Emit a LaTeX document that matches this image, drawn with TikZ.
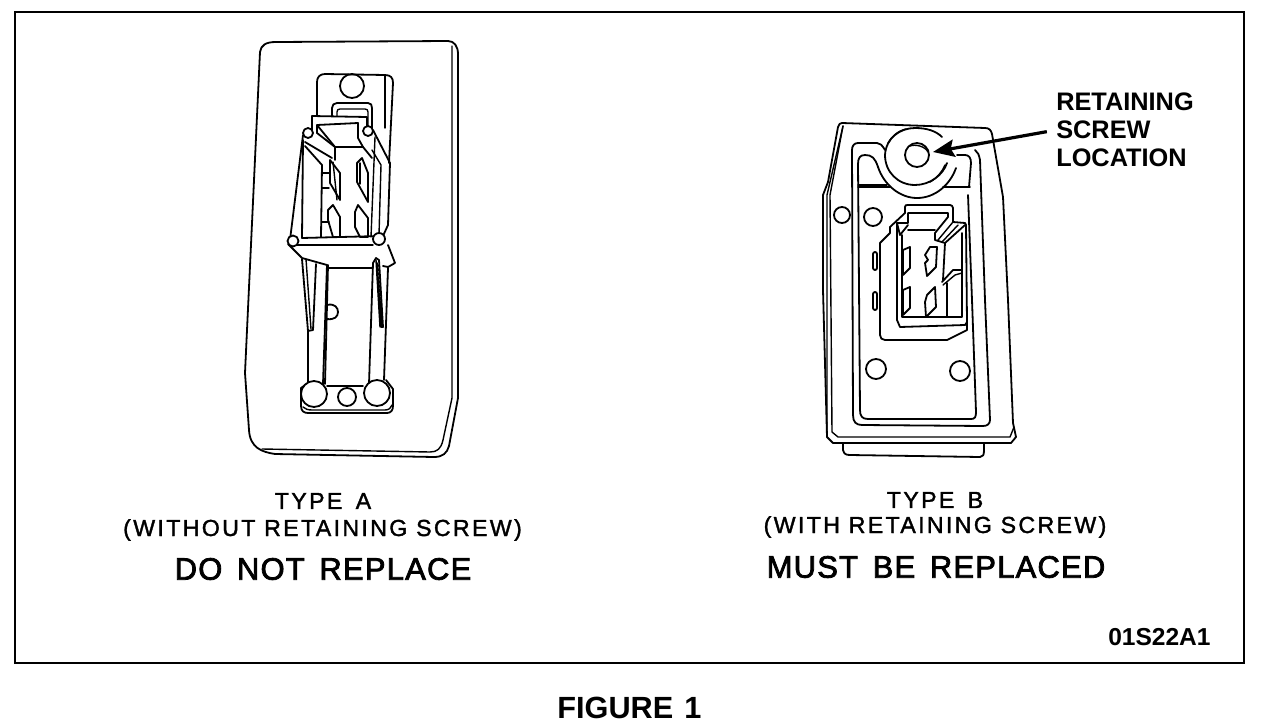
\documentclass[tikz,border=0pt]{standalone}
\usepackage{fontspec}
\setmainfont{Liberation Sans}
\usetikzlibrary{arrows.meta}
\newfontfamily\labfont[LetterSpace=10,FakeBold=1.5]{Liberation Sans}
\newfontfamily\bigfont[LetterSpace=4,FakeBold=2.5]{Liberation Sans}
\tikzset{
 ink/.style={draw=black,line width=1.35pt,line join=round,line cap=round},
 fine/.style={draw=black,line width=1.05pt,line join=round,line cap=round},
 lab/.style={font=\fontsize{17.4pt}{19pt}\labfont,inner sep=0pt,anchor=center,text=black},
 big/.style={font=\fontsize{23.2pt}{25pt}\bigfont,inner sep=0pt,anchor=center,text=black},
 tag/.style={font=\fontsize{19pt}{20pt}\selectfont\bfseries,inner sep=0pt,anchor=west,text=black},
 pointer/.style={draw=black,line width=2.4pt,-{Stealth[length=16pt,width=13pt,inset=2.5pt]}}
}
\begin{document}
\begin{tikzpicture}[x=0.75pt,y=-0.75pt]
\useasboundingbox (0,0) rectangle (1264,728);
\fill[white] (0,0) rectangle (1264,728);
\draw[draw=black,line width=1.9pt] (15,12) rectangle (1244,663);
% ---------- TYPE A body
\draw[ink] (260,52) .. controls (261,45) and (266,42) .. (276,42) -- (448,41) .. controls (454,41) and (458,46) .. (458,54) -- (458,398) -- (449,446) .. controls (447,453) and (443,457) .. (434,457) -- (275,454) .. controls (262,452) and (250,448) .. (249,430) -- (245,373) -- cycle;
\draw[fine] (452,46) -- (452,398) -- (443,440) .. controls (441,449) and (437,452) .. (430,452) -- (262,449);
% tab
\draw[ink] (317,116) -- (317,82) .. controls (317,77) and (320,74) .. (325,74) -- (385,75) .. controls (391,75) and (393,78) .. (393,83) -- (389,163);
\draw[fine] (385,76) -- (385,128);
\draw[ink] (352,86) circle (12);
\draw[ink] (332,116) -- (332,108) .. controls (332,105) and (334,103) .. (337,103) -- (368,103) .. controls (371,103) and (372,105) .. (372,108) -- (372,128);
\draw[fine] (337,116) -- (337,112) .. controls (337,110) and (338,109) .. (340,109) -- (365,109) .. controls (367,109) and (368,110) .. (368,112) -- (368,127);
\draw[ink] (312,130) -- (312,116) -- (367,117) -- (367,127);
% frame
\draw[ink] (303,135) -- (290,240);
\draw[ink] (303,140) -- (302,238) -- (380,236);
\draw[ink] (373,130) -- (390,163) -- (388,225) -- (383,236);
\draw[fine] (375,137) -- (371,237);
\draw[fine] (372,150) -- (381,165) -- (379,235);
\draw[ink,fill=white] (308,133) circle (5);
\draw[ink,fill=white] (368,131) circle (5);
\draw[ink,fill=white] (293,241) circle (5.5);
\draw[ink,fill=white] (379,239) circle (6);
% block
\draw[ink] (317,125) -- (358,123) -- (358,138) -- (363,147) -- (335,147) -- (317,133) -- cycle;
\draw[ink] (317,125) -- (335,147) -- (335,160);
\draw[ink] (363,147) -- (372,158);
\draw[ink] (305,142) -- (332,158);
\draw[ink] (305,146) -- (322,165) -- (321,237);
\draw[fine] (322,173) -- (329,173) (322,188) -- (329,188) (322,222) -- (329,222);
\draw[ink] (330,160) -- (340,173) -- (340,200) -- (330,183) -- cycle;
\draw[fine] (333,162) -- (337,200);
\draw[ink] (357,163) -- (362,158) -- (368,173) -- (368,202) -- (357,182) -- cycle;
\draw[fine] (360,163) -- (360,184);
\draw[ink] (328,210) -- (333,205) -- (340,217) -- (340,237) -- (333,237) -- (328,220) -- cycle;
\draw[ink] (355,212) -- (358,205) -- (368,218) -- (368,237) -- (360,237) -- (355,227) -- cycle;
% collar
\draw[ink] (288,244) -- (302,258) -- (327,265);
\draw[fine] (297,245) -- (373,245);
\draw[ink] (388,245) -- (395,263) -- (388,267) -- (383,266);
\draw[ink] (328,268) -- (373,268);
% lower legs
\draw[ink] (302,259) -- (308,331) -- (313,330) -- (316,264);
\draw[fine] (306,259) -- (311,329);
\draw[ink] (327,265) -- (323,384);
\draw[ink] (328,265) -- (325,384);
\draw[ink] (308,331) -- (308,384);
\draw[ink] (327,305) .. controls (335,303) and (338,308) .. (338,312) .. controls (338,317) and (334,320) .. (327,319);
\draw[ink] (373,263) -- (369,384);
\draw[ink] (373,263) -- (376,258) -- (379,260) -- (383,327) -- (381,327) -- (377,263);
\draw[fine] (376,260) -- (380,327);
\draw[ink] (388,268) -- (384,380);
% base
\draw[ink] (308,383) -- (301,388) -- (301,406) .. controls (301,411) and (304,413) .. (308,413) -- (387,413) .. controls (391,413) and (393,410) .. (393,406) -- (393,389) -- (386,380);
\draw[fine] (303,407) .. controls (305,409) and (308,410) .. (312,410) -- (385,410) .. controls (389,410) and (391,408) .. (392,405);
\draw[ink] (327,386) -- (363,386);
\draw[ink,fill=white] (314,394) circle (13);
\draw[ink,fill=white] (377,393) circle (13);
\draw[ink,fill=white] (347,397) circle (9);
% ---------- TYPE B body
\draw[ink] (842,123) -- (985,128) .. controls (989,128) and (991,130) .. (992,134) -- (1003,197) -- (1008,300) -- (1013,423) -- (1016,437) -- (1011,443) -- (833,443) -- (827,437) -- (823,290) -- (823,195) -- (828,182) -- (838,127) .. controls (839,124) and (840,123) .. (842,123);
\draw[fine] (843,126) -- (827,195) -- (827,437);
\draw[fine] (1014,427) -- (1010,437) -- (838,437) -- (832,432) -- (830,195) -- (843,126);
\draw[ink] (843,443) -- (843,450) .. controls (844,454) and (846,455) .. (850,455) -- (980,457) .. controls (983,457) and (984,455) .. (984,450) -- (984,443);
% frames
\draw[ink] (885,150) .. controls (882,145) and (880,143) .. (877,143) -- (858,143) .. controls (854,143) and (852,146) .. (852,150) -- (853,415) .. controls (853,422) and (856,425) .. (862,425) -- (983,426) .. controls (987,426) and (990,424) .. (990,420) -- (985,300) -- (980,160) .. controls (979,155) and (978,152) .. (975,150);
\draw[ink] (878,167) .. controls (875,158) and (872,155) .. (865,155) .. controls (860,155) and (858,158) .. (858,164) -- (860,410) .. controls (860,416) and (862,419) .. (868,419) -- (971,419) .. controls (975,419) and (976,417) .. (976,412) -- (972,300) -- (968,195);
\draw[ink] (957,155) -- (965,155) .. controls (969,155) and (971,158) .. (971,163) -- (969,187);
\draw[ink] (858,187) -- (890,187);
\draw[ink] (943,187) -- (970,187);
\draw[fine] (858,185) -- (887,185);
% screw boss
\draw[ink] (942,137) .. controls (936,131) and (927,128) .. (915,128) .. controls (900,128) and (886,138) .. (885,155) .. controls (885,172) and (898,185) .. (915,185) .. controls (930,185) and (943,175) .. (947,163);
\draw[fine] (888,143) .. controls (892,136) and (898,131) .. (906,129);
\draw[fine] (930,182) .. controls (937,178) and (942,172) .. (945,165);
\draw[ink] (878,167) .. controls (884,185) and (900,198) .. (917,198) .. controls (935,198) and (950,185) .. (956,168);
\draw[ink] (917,155) circle (12);
\draw[fine] (910,146) .. controls (915,144) and (925,146) .. (928,152);
% housing
\draw[ink] (905,213) -- (905,207) .. controls (905,205) and (906,205) .. (908,205) -- (950,205) .. controls (952,205) and (952,206) .. (953,208) -- (953,222) -- (965,223);
\draw[ink] (905,213) -- (890,227) -- (890,233) -- (880,243) -- (880,335) .. controls (880,338) and (882,340) .. (885,340) -- (947,340) -- (967,330) -- (967,322);
\draw[ink] (897,223) -- (908,223) -- (908,213) -- (948,213) -- (948,217) -- (935,233) -- (935,240) -- (945,243) -- (965,225);
\draw[fine] (953,222) -- (938,240);
\draw[fine] (958,225) -- (942,242);
\draw[ink] (908,230) -- (935,230);
\draw[ink] (908,225) -- (900,235) -- (897,223);
\draw[ink] (897,223) -- (897,320) -- (900,327) -- (965,325) -- (967,322) -- (966,225) -- (965,223);
\draw[ink] (902,235) -- (902,317) -- (962,317) -- (962,233);
\draw[ink] (945,243) -- (943,280);
\draw[ink] (947,283) -- (947,317);
\draw[ink] (942,282) -- (953,270) -- (962,270);
\draw[fine] (943,285) -- (955,275) -- (962,273);
\draw[ink] (903,250) -- (910,247) -- (910,268) -- (903,275) -- cycle;
\draw[ink] (925,255) -- (930,247) -- (937,247) -- (936,267) -- (927,276) -- (925,263) -- (928,260) -- cycle;
\draw[ink] (903,290) -- (910,287) -- (910,308) -- (903,315) -- cycle;
\draw[ink] (927,295) -- (935,287) -- (936,307) -- (926,317) -- (925,302) -- cycle;
\draw[ink,rounded corners=1.5pt] (873,252) rectangle (877,270);
\draw[ink,rounded corners=1.5pt] (873,292) rectangle (877,310);
% holes
\draw[ink] (842,215) circle (8);
\draw[ink] (873,217) circle (9);
\draw[ink] (876,369) circle (10);
\draw[ink] (960,371) circle (10);
% ---------- labels
\node[lab] (typea) at (323,501) {TYPE\hspace{10pt}A};
\node[lab] (witha) at (322.5,530) {(WITHOUT RETAINING SCREW)};
\node[big] (keep) at (323,569) {DO\hspace{11pt}NOT\hspace{11pt}REPLACE};
\node[lab] (typeb) at (935,500) {TYPE\hspace{10pt}B};
\node[lab] (withb) at (935,527) {(WITH RETAINING SCREW)};
\node[big] (swap) at (936,567) {MUST\hspace{11pt}BE\hspace{11pt}REPLACED};
\node[tag] (ret) at (1056,102) {RETAINING};
\node[tag] (scr) at (1056,130) {SCREW};
\node[tag] (loc) at (1056,158) {LOCATION};
\node[tag,font=\fontsize{18.4pt}{20pt}\selectfont\bfseries] (code) at (1108,637) {01S22A1};
\node[inner sep=0pt,font=\fontsize{23pt}{24pt}\selectfont\bfseries] (fig) at (629.5,708) {FIGURE\hspace{2pt} 1};
\coordinate (hole) at (933,152);
\draw[pointer,shorten <=7pt] (scr.west) -- (hole);
\end{tikzpicture}
\end{document}
